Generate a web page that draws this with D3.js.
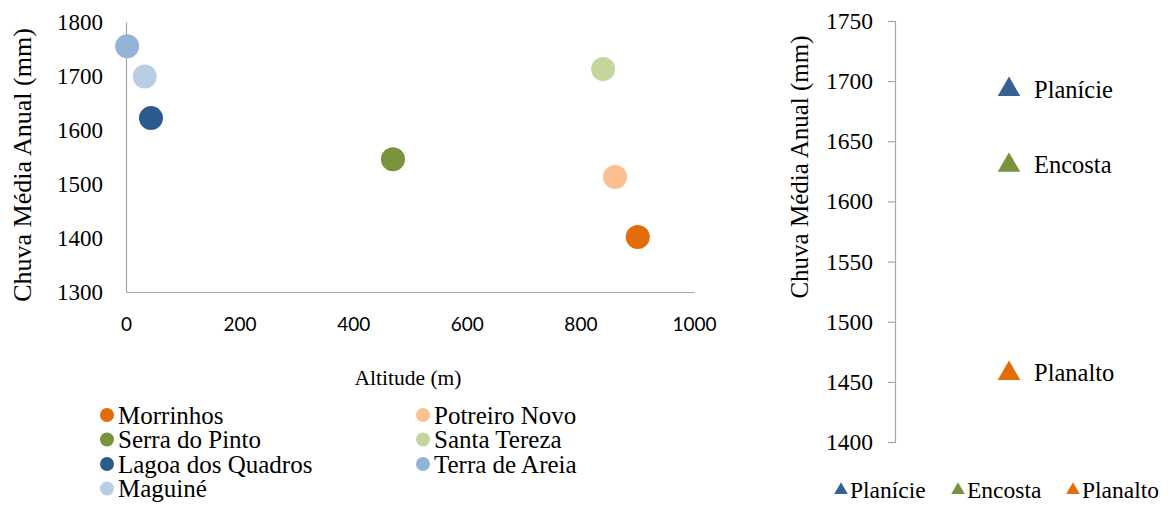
<!DOCTYPE html>
<html><head><meta charset="utf-8">
<script src="https://cdn.jsdelivr.net/npm/d3@7"></script>
<style>body{margin:0;background:#fff}svg{display:block}</style>
</head><body>
<svg id="c" width="1171" height="505"></svg>
<script>
// ---- data: left scatter ----
const stations = ["Morrinhos","Potreiro Novo","Serra do Pinto","Santa Tereza","Lagoa dos Quadros","Terra de Areia","Maguiné"];
const altitude = [901, 861, 470, 840, 44, 2, 33];
const rainfall = [1402, 1513, 1546, 1713, 1622, 1755, 1699];
const stationColors = ["#E36C09","#FAC090","#77933C","#C3D69B","#2C5A8E","#95B3D7","#B9CDE5"];
const xTicks = [0,200,400,600,800,1000];
const yTicksLeft = [1300,1400,1500,1600,1700,1800];
// ---- data: right chart ----
const regions = ["Planície","Encosta","Planalto"];
const regionRain = [1693, 1630, 1457];
const regionX = [1, 1, 1];
const regionColors = ["#366092","#77933C","#E36C09"];
const yTicksRight = [1400,1450,1500,1550,1600,1650,1700,1750];

const svg = d3.select("#c");
const serif = "'Liberation Serif','Times New Roman',serif";
const axisCol = "#A6A6A6";

// Left chart
const x = d3.scaleLinear().domain([0,1000]).range([126,694]);
const y = d3.scaleLinear().domain([1300,1800]).range([292,22]);

const gy = svg.append("g").attr("transform","translate(126,0)")
  .call(d3.axisLeft(y).tickValues(yTicksLeft).tickSize(0).tickPadding(23).tickFormat(d3.format("d")));
gy.select(".domain").attr("stroke",axisCol).attr("stroke-width",1.2);
gy.selectAll("text").attr("font-family",serif).attr("font-size",23).attr("fill","#000");

const gx = svg.append("g").attr("transform","translate(0,292)")
  .call(d3.axisBottom(x).tickValues(xTicks).tickSize(0).tickPadding(26).tickFormat(d3.format("d")));
gx.select(".domain").attr("stroke",axisCol).attr("stroke-width",1.2);
gx.selectAll("text").attr("font-family","Lato,'Open Sans',sans-serif").attr("font-size",19).attr("fill","#000");

svg.append("text").attr("x",408).attr("y",385).attr("text-anchor","middle")
  .attr("font-family",serif).attr("font-size",21.5).text("Altitude (m)");
svg.append("text").attr("transform","translate(31,165) rotate(-90)").attr("text-anchor","middle")
  .attr("font-family",serif).attr("font-size",26).text("Chuva Média Anual (mm)");

svg.append("g").selectAll("circle").data(stations).join("circle")
  .attr("cx",(d,i)=>x(altitude[i])).attr("cy",(d,i)=>y(rainfall[i]))
  .attr("r",12).attr("fill",(d,i)=>stationColors[i]);

// Left legend
const leg = svg.append("g");
stations.forEach((s,i)=>{
  const col = i%2, row = Math.floor(i/2);
  const lx = col===0 ? 107 : 423, ly = 415 + row*24.5;
  leg.append("circle").attr("cx",lx).attr("cy",ly).attr("r",7).attr("fill",stationColors[i]);
  leg.append("text").attr("x",lx+11).attr("y",ly+8.5).attr("font-family",serif).attr("font-size",25).text(s);
});

// Right chart
const x2 = d3.scaleLinear().domain([0,2]).range([895,1123]);
const y2 = d3.scaleLinear().domain([1400,1750]).range([442,21]);
const gy2 = svg.append("g").attr("transform","translate(895,0)")
  .call(d3.axisLeft(y2).tickValues(yTicksRight).tickSize(7).tickPadding(15).tickFormat(d3.format("d")));
gy2.select(".domain").attr("stroke",axisCol).attr("stroke-width",1.2);
gy2.selectAll(".tick line").attr("stroke",axisCol).attr("stroke-width",1.2);
gy2.selectAll("text").attr("font-family",serif).attr("font-size",23.5).attr("fill","#000");

svg.append("text").attr("transform","translate(808,167) rotate(-90)").attr("text-anchor","middle")
  .attr("font-family",serif).attr("font-size",25).text("Chuva Média Anual (mm)");

const tri = d3.symbol().type(d3.symbolTriangle).size(220);
svg.append("g").selectAll("path").data(regions).join("path")
  .attr("d",tri).attr("transform",(d,i)=>`translate(${x2(regionX[i])},${y2(regionRain[i])})`)
  .attr("fill",(d,i)=>regionColors[i]);
svg.append("g").selectAll("text").data(regions).join("text")
  .attr("x",(d,i)=>x2(regionX[i])+25).attr("y",(d,i)=>y2(regionRain[i])+8)
  .attr("font-family",serif).attr("font-size",24.5).text(d=>d);

// Right legend
const legX = [841, 958, 1073];
const tri2 = d3.symbol().type(d3.symbolTriangle).size(80);
regions.forEach((r,i)=>{
  svg.append("path").attr("d",tri2).attr("transform",`translate(${legX[i]},${490})`).attr("fill",regionColors[i]);
  svg.append("text").attr("x",legX[i]+9).attr("y",498).attr("font-family",serif).attr("font-size",23.5).text(r);
});
</script>
</body></html>
